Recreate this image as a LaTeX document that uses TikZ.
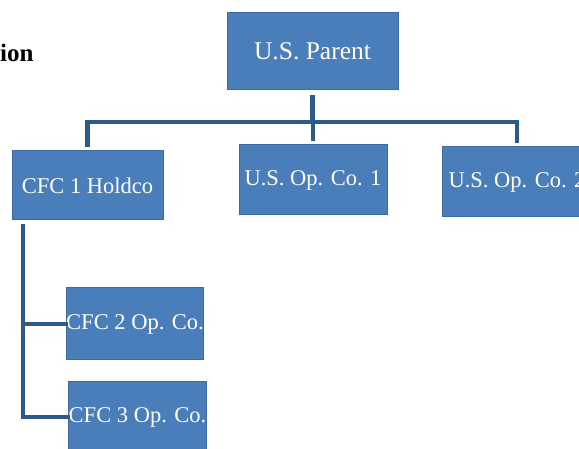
\documentclass[tikz,border=0pt]{standalone}
\usepackage{fontspec}
\setmainfont{Liberation Serif}
\definecolor{unitblue}{RGB}{74,126,187}
\definecolor{unitedge}{RGB}{62,108,162}
\definecolor{linkblue}{RGB}{46,90,138}
\tikzstyle{unit}=[draw=unitedge, fill=unitblue, text=white, inner sep=0, line width=1pt, font=\fontsize{22.5}{27}\selectfont]
\tikzstyle{link}=[draw=linkblue, line width=4.5pt, line cap=rect]

\begin{document}
\begin{tikzpicture}[x=1pt, y=-1pt]
          \useasboundingbox[fill=white] (0, 0) rectangle (579, 449);
          \node[font=\fontsize{25}{30}\selectfont\bfseries, anchor=base west, inner sep=0] (title) at (0, 62) {ion};

          \node[unit, minimum width=171, minimum height=77, font=\fontsize{25.5}{30}\selectfont] (parent) at (312.5, 51.5) {U.S. Parent};
          \node[unit, minimum width=151, minimum height=69] (holdco) at (87.5, 185.5) {CFC 1 Holdco};
          \node[unit, minimum width=148, minimum height=70] (opco_1) at (313, 180) {U.S. Op. Co. 1};
          \node[unit, minimum width=150, minimum height=70] (opco_2) at (517, 182) {U.S. Op. Co. 2};
          \node[unit, minimum width=136, minimum height=72] (cfc_2) at (135, 324) {CFC 2 Op. Co.};
          \node[unit, minimum width=135, minimum height=70] (cfc_3) at (137.5, 417) {CFC 3 Op. Co.};
          \coordinate (bus) at (313, 122);
          \coordinate (spine) at (23, 226);

          \draw[link, shorten <=7pt] (parent) -- (parent |- bus);
          \draw[link] (holdco.north |- bus) -- (opco_2.north |- bus);
          \foreach \n in {holdco, opco_1, opco_2}
            \draw[link, shorten >=6pt] (\n.north |- bus) -- (\n.north);
          \draw[link] (spine) |- (cfc_3.west);
          \draw[link] (spine |- cfc_2.west) -- (cfc_2.west);
        \end{tikzpicture}
\end{document}
